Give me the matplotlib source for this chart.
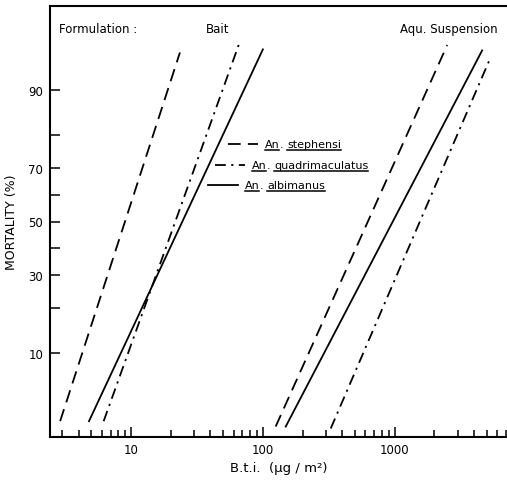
import matplotlib
matplotlib.use("Agg")
import matplotlib.pyplot as plt
import numpy as np
from statistics import NormalDist
from matplotlib.lines import Line2D
from matplotlib.ticker import FixedLocator, LogLocator, NullFormatter, FuncFormatter

# dose-response lines (B.t.i. dose in ug/m2, mortality in %)
bait_steph_dose = [2.9, 23.5]
bait_steph_mort = [2.6, 95.0]
bait_quad_dose = [6.2, 66]
bait_quad_mort = [2.6, 95.8]
bait_alb_dose = [4.8, 100]
bait_alb_mort = [2.6, 95.3]

aqu_steph_dose = [125, 2500]
aqu_steph_mort = [2.3, 95.7]
aqu_alb_dose = [149, 4600]
aqu_alb_mort = [2.3, 95.2]
aqu_quad_dose = [327, 5300]
aqu_quad_mort = [2.2, 94.4]

y_ticks = [10, 20, 30, 40, 50, 60, 70, 80, 90]
y_labels = [10, 30, 50, 70, 90]
species = ["stephensi", "quadrimaculatus", "albimanus"]

nd = NormalDist()


def probit(p):
    p = np.clip(np.asarray(p, dtype=float) / 100.0, 1e-9, 1 - 1e-9)
    return np.vectorize(nd.inv_cdf, otypes=[float])(p)


def inv_probit(z):
    z = np.asarray(z, dtype=float)
    return 100.0 * np.vectorize(nd.cdf, otypes=[float])(z)


dashed = (0, (7, 4))
dashdot = (0, (6, 3, 1.2, 3))
solid = "-"
styles = {"stephensi": dashed, "quadrimaculatus": dashdot, "albimanus": solid}

fig = plt.figure(figsize=(5.07, 4.85), dpi=100)
ax = fig.add_axes([50 / 507, 1 - 438 / 485, 1 - 50 / 507, (438 - 7) / 485])
ax.set_yscale("function", functions=(probit, inv_probit))
ax.set_xscale("log")

lw = 1.3
ax.plot(bait_steph_dose, bait_steph_mort, color="black", lw=lw, ls=dashed)
ax.plot(bait_quad_dose, bait_quad_mort, color="black", lw=lw, ls=dashdot)
ax.plot(bait_alb_dose, bait_alb_mort, color="black", lw=lw, ls=solid)
ax.plot(aqu_steph_dose, aqu_steph_mort, color="black", lw=lw, ls=dashed)
ax.plot(aqu_alb_dose, aqu_alb_mort, color="black", lw=lw, ls=solid)
ax.plot(aqu_quad_dose, aqu_quad_mort, color="black", lw=lw, ls=dashdot)

ax.set_xlim(2.43, 7100)
ax.set_ylim(1.8, 98.2)

ax.yaxis.set_major_locator(FixedLocator(y_ticks))
ax.yaxis.set_major_formatter(FuncFormatter(lambda v, pos: f"{v:.0f}" if round(v) in y_labels else ""))
ax.yaxis.set_minor_locator(FixedLocator([]))
ax.xaxis.set_major_locator(LogLocator(base=10))
ax.xaxis.set_major_formatter(FuncFormatter(lambda v, pos: f"{v:.0f}"))
ax.xaxis.set_minor_locator(LogLocator(base=10, subs=np.arange(2, 10)))
ax.xaxis.set_minor_formatter(NullFormatter())

ax.tick_params(axis="y", which="major", direction="in", length=7, width=1.1,
               labelsize=8.5, pad=5)
ax.tick_params(axis="x", which="minor", direction="in", length=5, width=1.1)
ax.tick_params(axis="x", which="major", direction="in", length=7.5, width=1.1,
               labelsize=8.5, pad=4)

for s in ["left", "bottom", "top"]:
    ax.spines[s].set_linewidth(1.5)
ax.spines["right"].set_visible(False)

ax.set_ylabel("MORTALITY (%)", fontsize=9, labelpad=7)
ax.set_xlabel("B.t.i.  (µg / m²)", fontsize=9.5, labelpad=4)

ax.text(0.02, 0.94, "Formulation :", transform=ax.transAxes, fontsize=8.5)
ax.text(0.34, 0.94, "Bait", transform=ax.transAxes, fontsize=8.5)
ax.text(0.765, 0.94, "Aqu. Suspension", transform=ax.transAxes, fontsize=8.5)

# hand-placed key, staggered like the original
key_x = [(228 - 50) / 457, (215 - 50) / 457, (208 - 50) / 457]
key_y = [1 - (145 - 7) / 431, 1 - (166 - 7) / 431, 1 - (186 - 7) / 431]
underlined = []
for name, kx, ky in zip(species, key_x, key_y):
    ax.plot([kx, kx + 0.065], [ky, ky], transform=ax.transAxes, color="black",
            lw=lw, ls=styles[name])
    t1 = ax.text(kx + 0.08, ky, "An", transform=ax.transAxes, fontsize=8, va="center")
    t2 = ax.annotate(".", xy=(1, 0), xycoords=t1, va="bottom", fontsize=8)
    t3 = ax.annotate(name, xy=(1, 0), xycoords=t2, xytext=(3, 0),
                     textcoords="offset points", va="bottom", fontsize=8)
    underlined += [t1, t3]

fig.canvas.draw()
inv = fig.transFigure.inverted()
for t in underlined:
    bb = t.get_window_extent()
    (x0, y0), (x1, _) = inv.transform([(bb.x0, bb.y0 - 1), (bb.x1, bb.y0 - 1)])
    fig.add_artist(Line2D([x0, x1], [y0, y0], transform=fig.transFigure,
                          color="black", lw=1.1))

fig.savefig("out.png", dpi=100)
